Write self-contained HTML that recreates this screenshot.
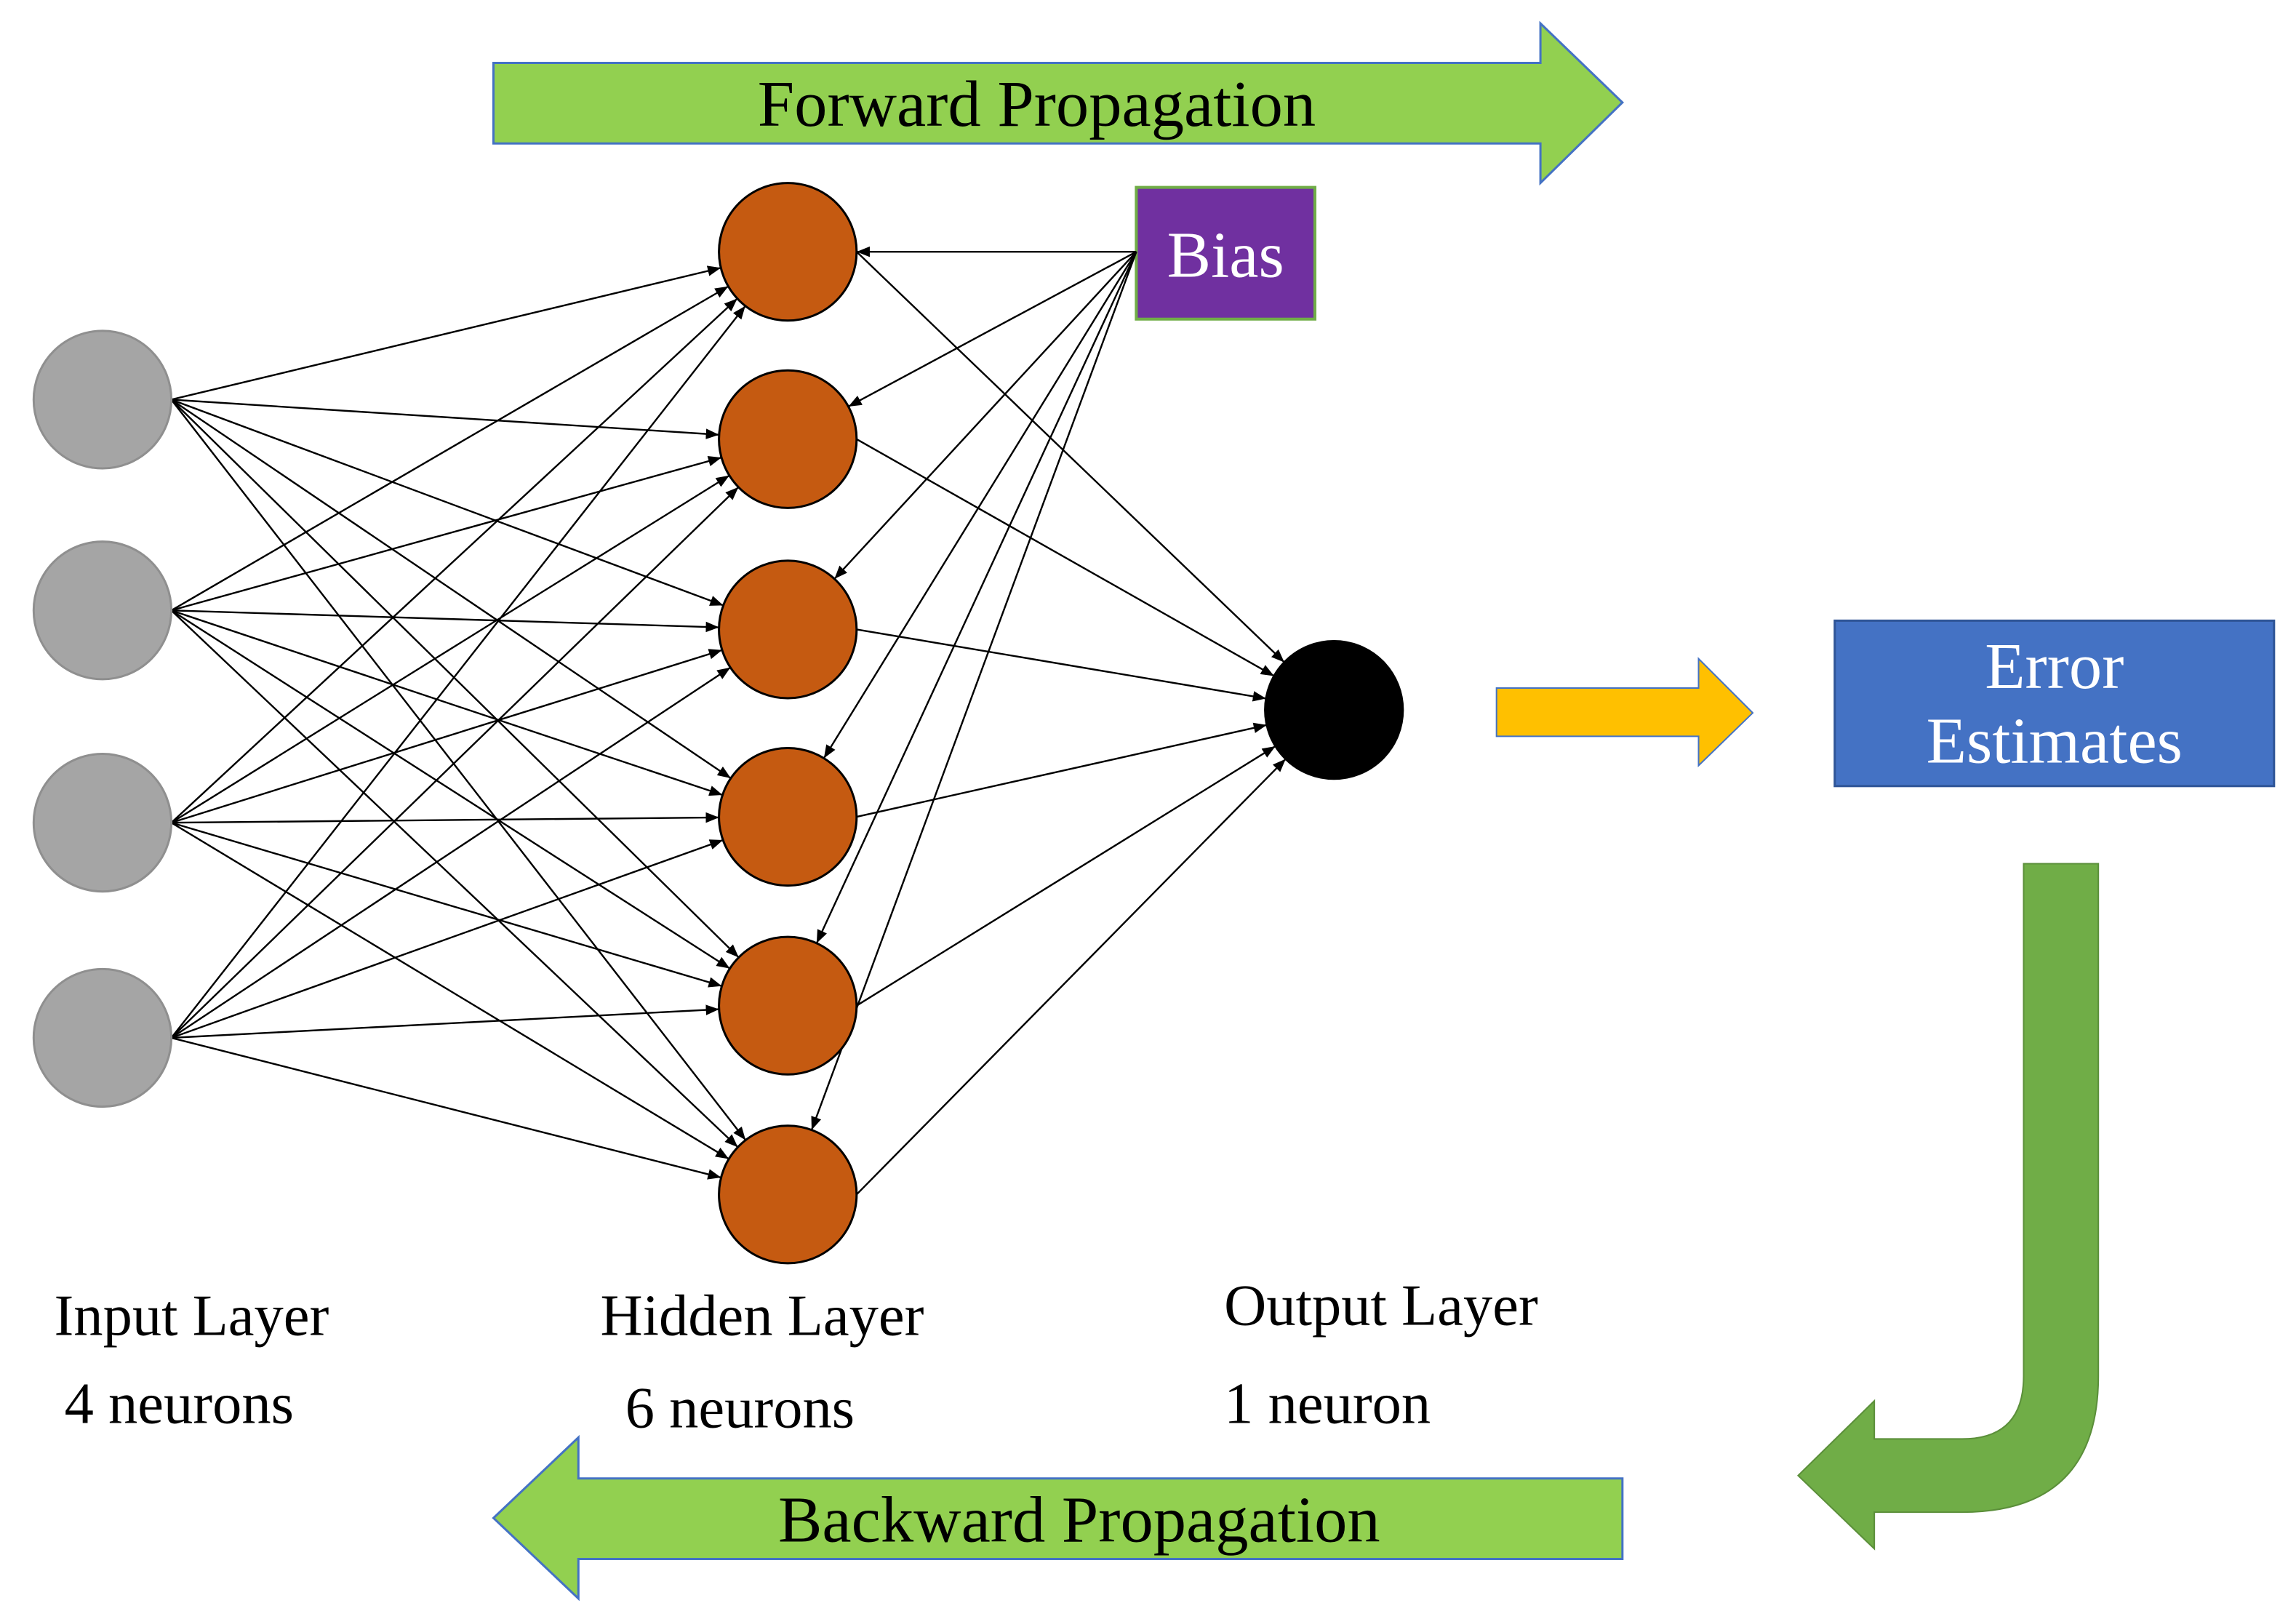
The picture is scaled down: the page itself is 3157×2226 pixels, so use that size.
<!DOCTYPE html>
<html><head><meta charset="utf-8">
<style>
html,body{margin:0;padding:0;background:#fff;}
svg{display:block;}
text{font-family:"Liberation Serif",serif;}
</style></head>
<body>
<svg id="s" width="3157" height="2226" viewBox="0 0 1568 1106" preserveAspectRatio="none" xmlns="http://www.w3.org/2000/svg">
<defs>
<marker id="ah" viewBox="0 0 10 10" refX="10" refY="5" markerWidth="9" markerHeight="9" markerUnits="userSpaceOnUse" orient="auto">
<path d="M0,1 L10,5 L0,9 z" fill="#000"/>
</marker>
</defs>
<polygon points="337,43 1052,43 1052,16 1108,70 1052,125 1052,98 337,98" fill="#92D050" stroke="#4472C4" stroke-width="1.5"/>
<text x="708" y="86" font-size="45" text-anchor="middle" fill="#000">Forward Propagation</text>
<polygon points="1108,1010 395,1010 395,982 337,1037 395,1092 395,1065 1108,1065" fill="#92D050" stroke="#4472C4" stroke-width="1.5"/>
<text x="737" y="1053" font-size="45" text-anchor="middle" fill="#000">Backward Propagation</text>
<polygon points="1022,470 1160,470 1160,450 1197,487 1160,523 1160,503 1022,503" fill="#FFC000" stroke="#4472C4" stroke-width="1"/>
<rect x="1253" y="424" width="300" height="113" fill="#4472C4" stroke="#2F5597" stroke-width="1.5"/>
<text x="1403" y="470" font-size="45" text-anchor="middle" fill="#fff">Error</text>
<text x="1403" y="521" font-size="45" text-anchor="middle" fill="#fff">Estimates</text>
<path d="M1382,590 L1433,590 L1433,940 Q1433,1033 1340,1033 L1280,1033 L1280,1058 L1228,1008 L1280,957 L1280,983 L1340,983 Q1382,983 1382,940 Z" fill="#70AD47" stroke="#5B8F3A" stroke-width="1"/>
<rect x="776" y="128" width="122" height="90" fill="#7030A0" stroke="#70AD47" stroke-width="2"/>
<text x="837" y="189" font-size="45" text-anchor="middle" fill="#fff">Bias</text>
<g id="lines" stroke="#000" stroke-width="1.2" fill="none"></g>
<g id="nodes"></g>
<text x="37" y="912" font-size="40">Input Layer</text>
<text x="44" y="972" font-size="40">4 neurons</text>
<text x="410" y="912" font-size="40">Hidden Layer</text>
<text x="427" y="975" font-size="40">6 neurons</text>
<text x="836" y="905" font-size="40">Output Layer</text>
<text x="836" y="972" font-size="40">1 neuron</text>
</svg>
<script>
var NS="http://www.w3.org/2000/svg";
var R=47;
var inp=[273,417,562,709].map(function(y){return [70,y];});
var hid=[172,300,430,558,687,816].map(function(y){return [538,y];});
var out=[911,485];
var bias=[776,172];
var L=document.getElementById("lines"),N=document.getElementById("nodes");
function line(a,b,r){
  var dx=b[0]-a[0],dy=b[1]-a[1],d=Math.sqrt(dx*dx+dy*dy);
  var ex=b[0]-dx/d*r,ey=b[1]-dy/d*r;
  var l=document.createElementNS(NS,"line");
  l.setAttribute("x1",a[0]);l.setAttribute("y1",a[1]);
  l.setAttribute("x2",ex);l.setAttribute("y2",ey);
  l.setAttribute("marker-end","url(#ah)");
  L.appendChild(l);
}
inp.forEach(function(p){hid.forEach(function(h){line([p[0]+47,p[1]],h,R);});});
hid.forEach(function(h){line([h[0]+47,h[1]],out,R);});
hid.forEach(function(h){line(bias,h,R);});
function circ(c,fill,stroke){
  var e=document.createElementNS(NS,"circle");
  e.setAttribute("cx",c[0]);e.setAttribute("cy",c[1]);e.setAttribute("r",R);
  e.setAttribute("fill",fill);e.setAttribute("stroke",stroke);e.setAttribute("stroke-width","1.5");
  N.appendChild(e);
}
inp.forEach(function(p){circ(p,"#A5A5A5","#8f8f8f");});
hid.forEach(function(p){circ(p,"#C55A11","#000");});
circ(out,"#000","#000");
</script>
</body></html>
